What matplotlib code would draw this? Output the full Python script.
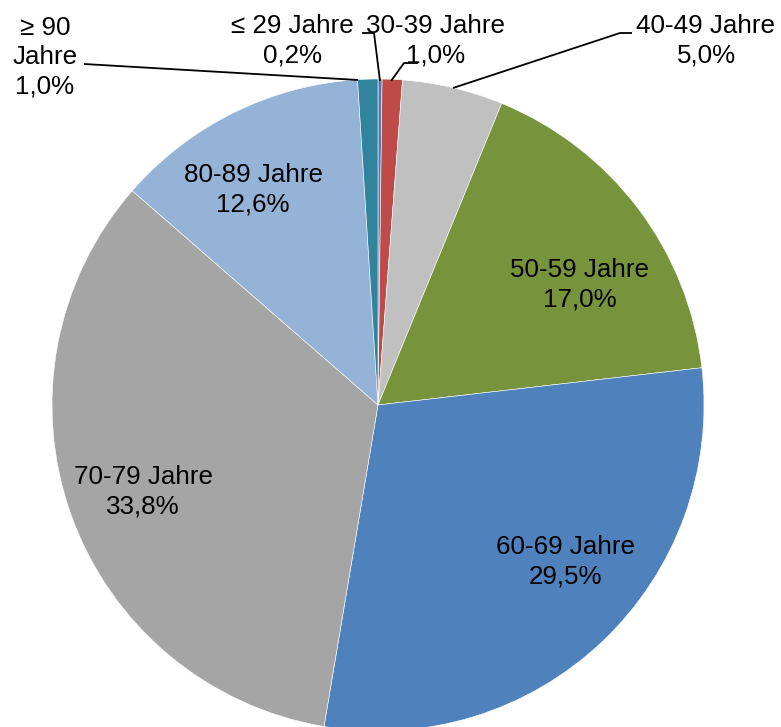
import matplotlib.pyplot as plt

plt.rcParams['font.family'] = ['Liberation Sans', 'DejaVu Sans']

# age groups, clockwise from 12 o'clock
groups = ['≤ 29 Jahre', '30-39 Jahre', '40-49 Jahre', '50-59 Jahre',
          '60-69 Jahre', '70-79 Jahre', '80-89 Jahre', '≥ 90\nJahre']
shares = [0.2, 1.0, 5.0, 17.0, 29.5, 33.8, 12.6, 1.0]
colors = ['#4A7EBB', '#BE4B48', '#C0C0C0', '#77933C',
          '#4F81BD', '#A5A5A5', '#95B3D7', '#31849B']

W, H = 781, 727
fig = plt.figure(figsize=(W / 100, H / 100), dpi=100)
ax = fig.add_axes([0, 0, 1, 1])

cx, cy, r = 378, H - 405, 326
ax.pie(shares, colors=colors, startangle=90, counterclock=False,
       center=(cx, cy), radius=r, frame=True,
       wedgeprops=dict(edgecolor='white', linewidth=0.4))
ax.set_xlim(0, W)
ax.set_ylim(0, H)
ax.set_aspect('equal')
ax.axis('off')

def pct(v):
    return f'{v:.1f}'.replace('.', ',') + '%'

fs = 18.7
ls = 1.28
# labels inside the pie
inside = {3: (580, 285), 4: (565, 562), 5: (143, 492), 6: (253, 190)}
for i, (x, y) in inside.items():
    ax.text(x, H - y, f'{groups[i]}\n{pct(shares[i])}', ha='center',
            va='center', fontsize=fs, linespacing=ls)

# labels outside with leader lines
outside = {
    7: ((45, 57), [(84, 64), (358, 80)]),
    0: ((292, 41), [(362, 33), (374, 33), (380, 81)]),
    1: ((436, 41), [(418, 63), (404, 63), (391, 81)]),
    2: ((706, 41), [(632, 33), (620, 33), (453, 88)]),
}
for i, ((x, y), pts) in outside.items():
    ax.text(x, H - y, f'{groups[i]}\n{pct(shares[i])}', ha='center',
            va='center', fontsize=fs, linespacing=ls)
    ax.plot([p[0] for p in pts], [H - p[1] for p in pts], color='black',
            lw=1.3, solid_capstyle='butt')

fig.savefig('out.png', dpi=100)
